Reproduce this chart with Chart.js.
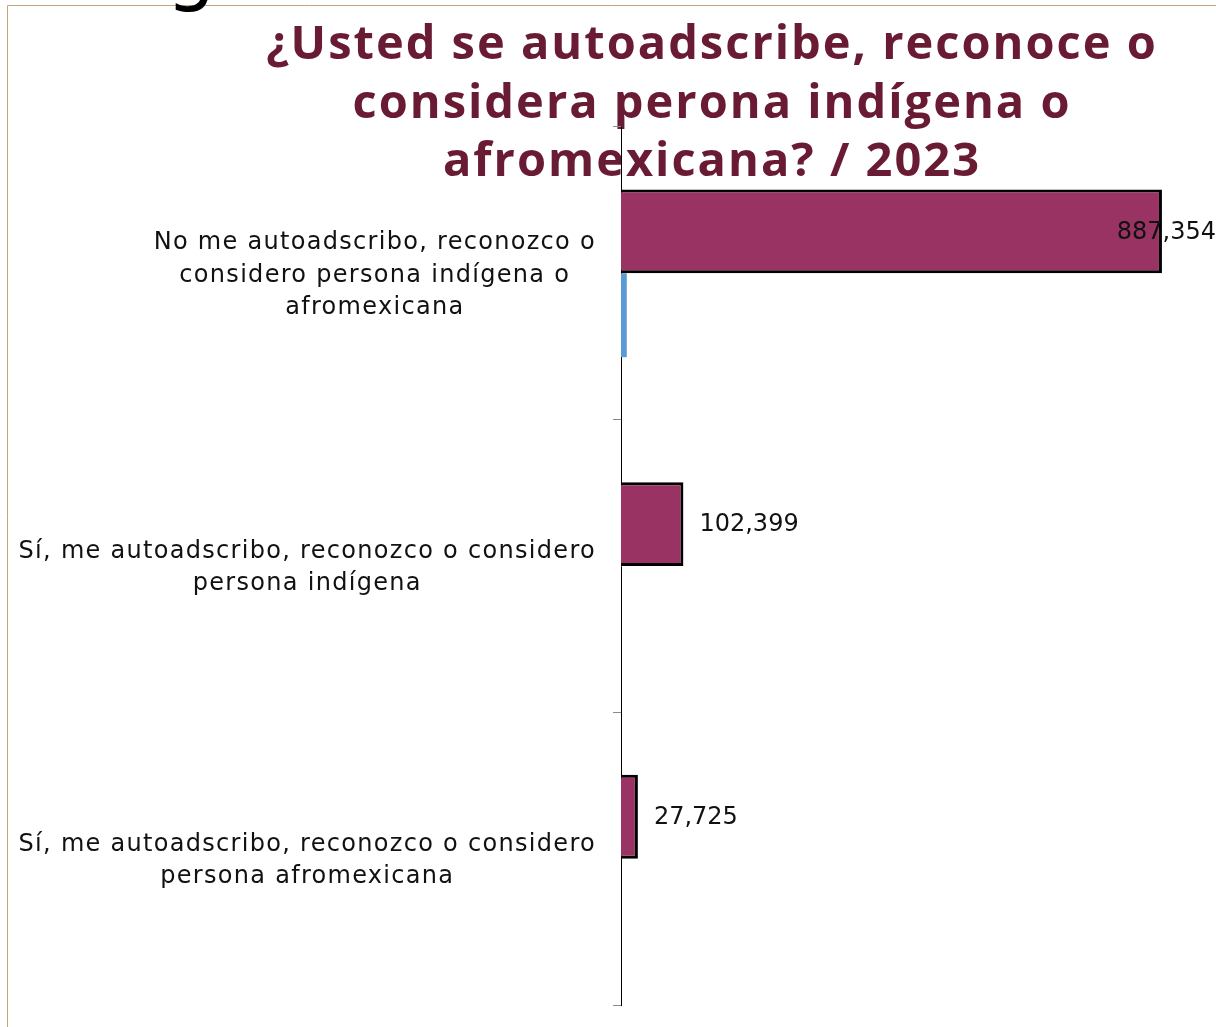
<!DOCTYPE html>
<html>
<head>
<meta charset="utf-8">
<script src="https://cdn.jsdelivr.net/npm/chart.js@4"></script>
<style>
  html, body { margin: 0; padding: 0; background: #ffffff; }
  #wrap { width: 1216px; height: 1027px; position: relative; }
</style>
</head>
<body>
<div id="wrap"><canvas id="c" width="1216" height="1027"></canvas></div>
<script>
// Categories (each entry is the list of lines shown next to the axis)
const categories = [
  ['No me autoadscribo, reconozco o', 'considero persona indígena o', 'afromexicana'],
  ['Sí, me autoadscribo, reconozco o considero', 'persona indígena'],
  ['Sí, me autoadscribo, reconozco o considero', 'persona afromexicana']
];
// Number of people per answer, 2023
const personas2023 = [887354, 102399, 27725];
// Second, unlabelled series
const serieSecundaria = [9500, 0, 0];
// Title lines
const titleLines = [
  '¿Usted se autoadscribe, reconoce o',
  'considera perona indígena o',
  'afromexicana? / 2023'
];
const xAxisMax = 976000;

const MAROON = '#983363';
const TITLE_COLOR = '#6a1b34';
const BLUE = '#5b9bd5';
const LABEL_FONT = '24px "DejaVu Sans", sans-serif';

// Frame, heading fragment and title, painted under the axes
const backdrop = {
  id: 'backdrop',
  beforeDraw(chart) {
    const ctx = chart.ctx;
    ctx.save();
    ctx.strokeStyle = '#c6a379';
    ctx.lineWidth = 1;
    ctx.beginPath();
    ctx.moveTo(7.5, chart.height);
    ctx.lineTo(7.5, 5.5);
    ctx.lineTo(chart.width, 5.5);
    ctx.stroke();

    ctx.fillStyle = '#000';
    ctx.font = '78px "DejaVu Sans", sans-serif';
    ctx.textAlign = 'center';
    ctx.textBaseline = 'alphabetic';
    ctx.fillText('g', 191, -4);

    ctx.fillStyle = TITLE_COLOR;
    ctx.font = 'bold 47px "Open Sans", sans-serif';
    ctx.letterSpacing = '2px';
    titleLines.forEach((t, i) => ctx.fillText(t, 712, 59 + i * 58.5));
    ctx.restore();
  }
};

// Category labels: each block centred on its own widest line, right edge near the axis
const categoryLabels = {
  id: 'categoryLabels',
  afterDraw(chart) {
    const ctx = chart.ctx;
    const y = chart.scales.y;
    const rightEdge = y.right - 25;
    const lh = 32.5;
    ctx.save();
    ctx.font = LABEL_FONT;
    ctx.letterSpacing = '1.3px';
    ctx.fillStyle = '#111';
    ctx.textAlign = 'center';
    ctx.textBaseline = 'middle';
    categories.forEach((lines, i) => {
      const w = Math.max(...lines.map(l => ctx.measureText(l).width));
      const cx = rightEdge - w / 2;
      const cy = y.getPixelForValue(i) + 2;
      lines.forEach((l, j) => ctx.fillText(l, cx, cy + (j - (lines.length - 1) / 2) * lh));
    });
    ctx.restore();
  }
};

// Value labels after the end of each maroon bar, kept inside the canvas
const valueLabels = {
  id: 'valueLabels',
  afterDatasetsDraw(chart) {
    const ctx = chart.ctx;
    const meta = chart.getDatasetMeta(0);
    ctx.save();
    ctx.font = LABEL_FONT;
    ctx.fillStyle = '#111';
    ctx.textAlign = 'left';
    ctx.textBaseline = 'middle';
    meta.data.forEach((bar, i) => {
      const txt = personas2023[i].toLocaleString('en-US');
      const w = ctx.measureText(txt).width;
      let x = bar.x + 16;
      if (x + w > chart.width) x = chart.width - w;
      ctx.fillText(txt, x, bar.y + 1);
    });
    ctx.restore();
  }
};

new Chart(document.getElementById('c'), {
  type: 'bar',
  data: {
    labels: categories,
    datasets: [
      {
        data: personas2023,
        backgroundColor: MAROON,
        borderColor: '#000',
        borderWidth: 3,
        borderSkipped: 'start',
        categoryPercentage: 0.573,
        barPercentage: 1
      },
      {
        data: serieSecundaria,
        backgroundColor: BLUE,
        borderWidth: 0,
        categoryPercentage: 0.573,
        barPercentage: 1
      }
    ]
  },
  options: {
    indexAxis: 'y',
    responsive: false,
    animation: false,
    layout: { padding: { top: 127, bottom: 22, left: 0, right: 0 } },
    plugins: {
      legend: { display: false },
      title: { display: false },
      tooltip: { enabled: false }
    },
    scales: {
      x: { display: false, min: 0, max: xAxisMax },
      y: {
        afterFit(scale) { scale.width = 621; },
        ticks: { display: false },
        grid: {
          display: true,
          drawOnChartArea: false,
          drawTicks: true,
          tickLength: 8,
          color: '#8a8a8a',
          offset: true
        },
        border: { display: true, color: '#000', width: 1 }
      }
    }
  },
  plugins: [backdrop, categoryLabels, valueLabels]
});
</script>
</body>
</html>
